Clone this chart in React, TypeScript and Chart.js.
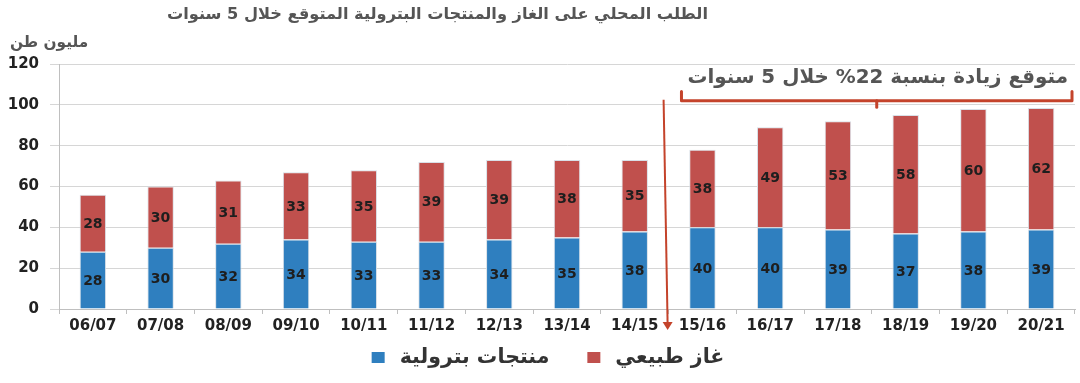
import React, { useEffect, useRef } from "react";
import { Chart, registerables } from "chart.js";

Chart.register(...registerables);

const categories = ["06/07", "07/08", "08/09", "09/10", "10/11", "11/12", "12/13", "13/14", "14/15", "15/16", "16/17", "17/18", "18/19", "19/20", "20/21"];
const petroleumValues = [28, 30, 32, 34, 33, 33, 34, 35, 38, 40, 40, 39, 37, 38, 39];
const gasValues = [28, 30, 31, 33, 35, 39, 39, 38, 35, 38, 49, 53, 58, 60, 59.5];
const gasLabels = ["28", "30", "31", "33", "35", "39", "39", "38", "35", "38", "49", "53", "58", "60", "62"];
const petroleumLabels = petroleumValues.map(String);
const yTicks = [0, 20, 40, 60, 80, 100, 120];

const titleText = "الطلب المحلي على الغاز والمنتجات البترولية المتوقع خلال 5 سنوات";
const unitText = "مليون طن";
const noteText = "متوقع زيادة بنسبة 22% خلال 5 سنوات";
const seriesNames = ["منتجات بترولية", "غاز طبيعي"];

const BLUE = "#2f7fbf";
const RED = "#c0504d";
const ACCENT = "#c4432b";
const GRAYTXT = "#555555";
const AR_FONT = '"DejaVu Sans", "Noto Sans", sans-serif';

function fitText(ctx: CanvasRenderingContext2D, text: string, base: number, target: number, weight = "bold") {
  ctx.font = `${weight} ${base}px ${AR_FONT}`;
  const w = ctx.measureText(text).width;
  const size = Math.max(10, Math.min(base * 1.4, (base * target) / w));
  ctx.font = `${weight} ${size.toFixed(1)}px ${AR_FONT}`;
  return size;
}

const overlayPlugin = {
  id: "overlay",
  afterDatasetsDraw(chart: any) {
    const ctx = chart.ctx as CanvasRenderingContext2D;
    ctx.save();
    ctx.font = `bold 14px ${AR_FONT}`;
    ctx.fillStyle = "#1e1e1e";
    ctx.textAlign = "center";
    ctx.textBaseline = "middle";
    const labelSets = [petroleumLabels, gasLabels];
    chart.data.datasets.forEach((_ds: any, di: number) => {
      const meta = chart.getDatasetMeta(di);
      meta.data.forEach((bar: any, i: number) => {
        const y = (bar.y + bar.base) / 2;
        ctx.fillText(labelSets[di][i], bar.x, y + 1);
      });
    });
    ctx.restore();
  },
  afterDraw(chart: any) {
    const ctx = chart.ctx as CanvasRenderingContext2D;
    const xs = chart.scales.x;
    const ys = chart.scales.y;
    const area = chart.chartArea;
    ctx.save();
    ctx.direction = "rtl";
    ctx.textBaseline = "middle";
    ctx.fillStyle = GRAYTXT;

    // title
    ctx.textAlign = "right";
    fitText(ctx, titleText, 22, 540);
    ctx.fillText(titleText, 708, 15);

    // unit
    ctx.textAlign = "left";
    fitText(ctx, unitText, 17, 78);
    ctx.fillText(unitText, 10, 43);

    // note
    ctx.textAlign = "right";
    fitText(ctx, noteText, 21, 380);
    ctx.fillText(noteText, 1068, 78);

    // bracket
    const bl = xs.getPixelForValue(9) - 21;
    const br = area.right - 3;
    const bm = (bl + br) / 2;
    const yTop = ys.getPixelForValue(106.5);
    const yMid = ys.getPixelForValue(102);
    const yTip = ys.getPixelForValue(98.8);
    ctx.strokeStyle = ACCENT;
    ctx.lineWidth = 3;
    ctx.lineJoin = "round";
    ctx.lineCap = "round";
    ctx.beginPath();
    ctx.moveTo(bl, yTop);
    ctx.lineTo(bl, yMid);
    ctx.lineTo(br, yMid);
    ctx.lineTo(br, yTop);
    ctx.stroke();
    ctx.beginPath();
    ctx.moveTo(bm, yMid);
    ctx.lineTo(bm, yTip);
    ctx.stroke();

    // arrow
    const ax0 = xs.getPixelForValue(8.5) - 5;
    const ax1 = xs.getPixelForValue(8.5) - 1;
    const ay0 = ys.getPixelForValue(102.5);
    const ay1 = area.bottom + 21;
    ctx.lineWidth = 2;
    ctx.lineCap = "butt";
    ctx.beginPath();
    ctx.moveTo(ax0, ay0);
    ctx.lineTo(ax1, ay1 - 6);
    ctx.stroke();
    ctx.fillStyle = ACCENT;
    ctx.beginPath();
    ctx.moveTo(ax1 - 5, ay1 - 8);
    ctx.lineTo(ax1 + 5, ay1 - 8);
    ctx.lineTo(ax1, ay1);
    ctx.closePath();
    ctx.fill();

    // legend
    const ds = chart.data.datasets;
    fitText(ctx, ds[0].label, 18, 150, "bold");
    const box = 13;
    const gapBoxText = 15;
    const gapItems = 38;
    const widths = ds.map((d: any) => box + gapBoxText + ctx.measureText(d.label).width);
    const total = widths.reduce((a: number, b: number) => a + b, 0) + gapItems * (ds.length - 1);
    let x = 548 - total / 2;
    const ly = 357;
    ctx.textAlign = "right";
    ds.forEach((d: any, i: number) => {
      ctx.fillStyle = d.backgroundColor;
      ctx.fillRect(x, ly - 5, box, 11);
      ctx.fillStyle = "#333";
      ctx.fillText(d.label, x + widths[i], ly + 1);
      x += widths[i] + gapItems;
    });
    ctx.restore();
  },
};

export default function App() {
  const ref = useRef<HTMLCanvasElement | null>(null);
  useEffect(() => {
    document.body.style.margin = "0";
    const canvas = ref.current;
    if (!canvas) return;
    const chart = new Chart(canvas, {
      type: "bar",
      data: {
        labels: categories,
        datasets: [
          {
            label: seriesNames[0],
            data: petroleumValues,
            backgroundColor: BLUE,
            borderColor: "rgba(215,222,230,0.95)",
            borderWidth: 1,
            barPercentage: 0.39,
            categoryPercentage: 1,
          },
          {
            label: seriesNames[1],
            data: gasValues,
            backgroundColor: RED,
            borderColor: "rgba(215,222,230,0.95)",
            borderWidth: 1,
            barPercentage: 0.39,
            categoryPercentage: 1,
          },
        ],
      },
      options: {
        responsive: false,
        animation: false,
        devicePixelRatio: 1,
        layout: { padding: { top: 64, left: 8, right: 5, bottom: 44 } },
        plugins: {
          title: { display: false },
          tooltip: { enabled: false },
          legend: { display: false },
        },
        scales: {
          x: {
            stacked: true,
            afterFit: (axis: any) => {
              axis.height = 30;
              axis.paddingLeft = 0;
              axis.paddingRight = 0;
            },
            border: { display: true, color: "#bfbfbf", width: 1 },
            grid: { display: true, offset: true, drawOnChartArea: false, drawTicks: true, tickLength: 5, color: "#bfbfbf" },
            ticks: { color: "#222", padding: 3, font: { family: AR_FONT, size: 15, weight: "bold" }, maxRotation: 0, autoSkip: false },
          },
          y: {
            stacked: true,
            min: 0,
            max: 120,
            afterBuildTicks: (axis: any) => {
              axis.ticks = yTicks.map((v) => ({ value: v }));
            },
            afterFit: (axis: any) => {
              axis.width = 51;
              axis.paddingTop = 0;
              axis.paddingBottom = 0;
            },
            border: { display: true, color: "#bfbfbf", width: 1 },
            grid: { color: "#d6d6d6", tickLength: 9, drawTicks: true },
            ticks: { color: "#222", padding: 11, font: { family: AR_FONT, size: 15, weight: "bold" } },
          },
        },
      },
      plugins: [overlayPlugin],
    } as any);
    return () => chart.destroy();
  }, []);
  return (
    <div style={{ width: 1080, height: 383, background: "#fff" }}>
      <canvas ref={ref} width={1080} height={383} style={{ display: "block" }} />
    </div>
  );
}
